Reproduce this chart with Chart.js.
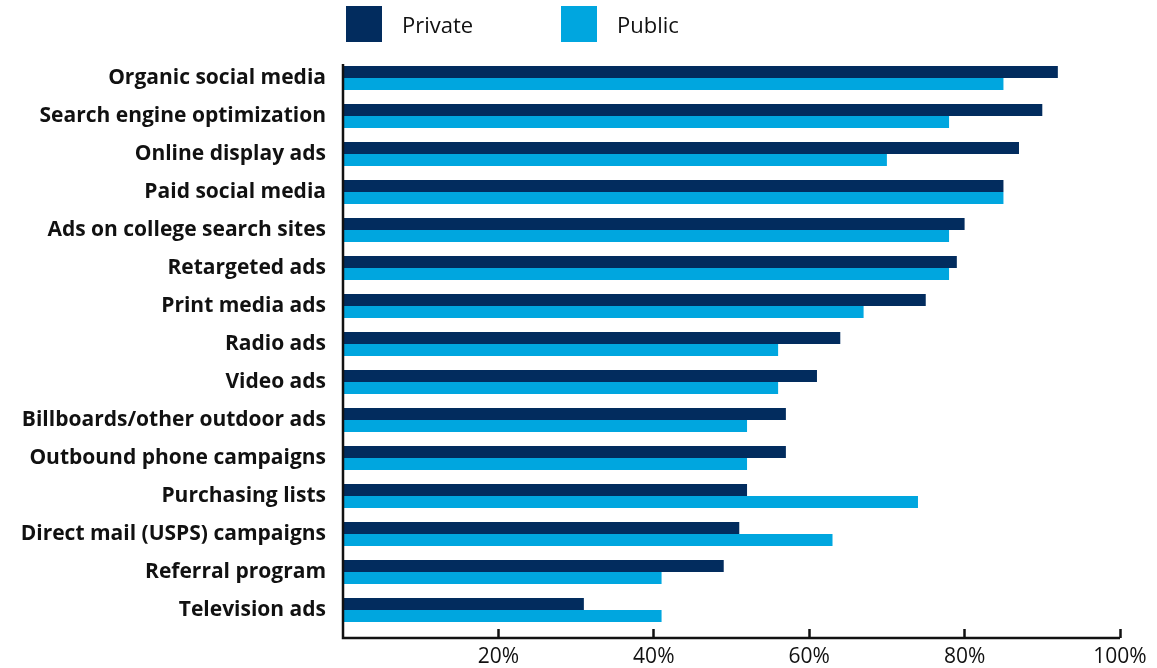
<!DOCTYPE html>
<html>
<head>
<meta charset="utf-8">
<script src="https://cdn.jsdelivr.net/npm/chart.js@4.4.1/dist/chart.umd.min.js"></script>
<style>
  html, body { margin: 0; padding: 0; background: #fff; }
  #wrap { position: relative; width: 1157px; height: 668px; }
  #legend { position: absolute; left: 346px; top: 6px; display: flex; font-family: "Open Sans", sans-serif; font-size: 22px; color: #111; }
  .item { display: flex; align-items: center; }
  .swatch { width: 36px; height: 36px; margin-right: 20px; }
</style>
</head>
<body>
<div id="wrap">
  <canvas id="channelBar" width="1157" height="668"></canvas>
  <div id="legend"></div>
</div>
<script>
/*............................Channel usage bars.................................*/

const channels = ['Organic social media', 'Search engine optimization', 'Online display ads', 'Paid social media',
  'Ads on college search sites', 'Retargeted ads', 'Print media ads', 'Radio ads', 'Video ads',
  'Billboards/other outdoor ads', 'Outbound phone campaigns', 'Purchasing lists',
  'Direct mail (USPS) campaigns', 'Referral program', 'Television ads'];
const privateValues = [92, 90, 87, 85, 80, 79, 75, 64, 61, 57, 57, 52, 51, 49, 31];
const publicValues = [85, 78, 70, 85, 78, 78, 67, 56, 56, 52, 52, 74, 63, 41, 41];
const xTicks = [0, 20, 40, 60, 80, 100];

const data = {
  labels: channels,
  datasets: [
    {
      label: 'Private',
      backgroundColor: '#022c5e',
      data: privateValues,
    },
    {
      label: 'Public',
      backgroundColor: '#00a6df',
      data: publicValues,
    }
  ]
};

// axis lines sit a little below the last bar, so draw them by hand
const axisLines = {
  id: 'axisLines',
  afterDraw(chart) {
    const { ctx, chartArea } = chart;
    const base = chartArea.bottom + 9;
    ctx.save();
    ctx.strokeStyle = '#111';
    ctx.lineWidth = 2.5;
    ctx.beginPath();
    ctx.moveTo(chartArea.left, chartArea.top + 5);
    ctx.lineTo(chartArea.left, base);
    ctx.lineTo(chartArea.right, base);
    ctx.stroke();
    ctx.restore();
  }
};

const config = {
  type: 'bar',
  data: data,
  plugins: [axisLines],
  options: {
    indexAxis: 'y',
    responsive: false,
    animation: false,
    datasets: {
      bar: { categoryPercentage: 0.63, barPercentage: 1.0 }
    },
    layout: { padding: { top: 59, right: 37, bottom: 0, left: 0 } },
    plugins: {
      legend: { display: false },
      tooltip: { enabled: false }
    },
    scales: {
      x: {
        min: 0,
        max: 100,
        afterBuildTicks: (scale) => { scale.ticks = xTicks.map(v => ({ value: v })); },
        afterFit: (scale) => { scale.height = 39; },
        border: { display: false },
        grid: {
          drawOnChartArea: false,
          tickLength: 9,
          tickWidth: 2.5,
          tickColor: (c) => c.tick && c.tick.value === 0 ? 'rgba(0,0,0,0)' : '#111'
        },
        ticks: {
          padding: 6,
          color: '#111',
          font: { family: 'Open Sans', size: 21 },
          callback: (v) => v === 0 ? '' : v + '%'
        }
      },
      y: {
        afterFit: (scale) => { scale.width = 343; },
        border: { display: false },
        grid: { display: false, drawTicks: false },
        ticks: {
          padding: 17,
          color: '#111',
          font: { family: 'Open Sans', size: 21, weight: 'bold' }
        }
      }
    }
  }
};

const ctx = document.getElementById('channelBar').getContext('2d');
const channelBar = new Chart(ctx, config);

// legend built from the datasets
const legendEl = document.getElementById('legend');
channelBar.data.datasets.forEach((ds, i) => {
  const item = document.createElement('div');
  item.className = 'item';
  item.style.width = i === 0 ? '215px' : 'auto';
  const sw = document.createElement('div');
  sw.className = 'swatch';
  sw.style.background = ds.backgroundColor;
  const txt = document.createElement('span');
  txt.textContent = ds.label;
  item.appendChild(sw);
  item.appendChild(txt);
  legendEl.appendChild(item);
});
</script>
</body>
</html>
